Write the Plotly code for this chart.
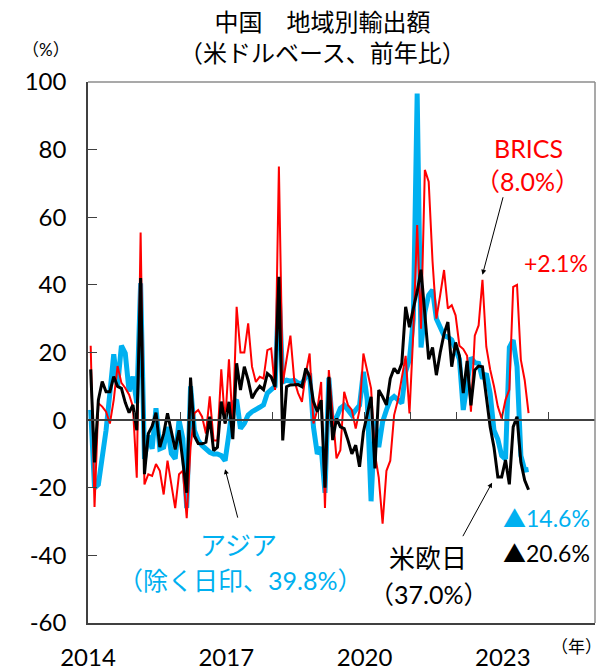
import plotly.graph_objects as go
import numpy as np

# monthly y/y growth (%), Jan 2014 .. Jul 2023
brics = [22, -25.7, 5, 4, 2.5, -1, 6, 16, 11, 9.5, 7.5, 4, -17, 55.5, -19, -16, -16.5, -13, -15, -22,
         -12, -19, -26, -16, -15, -29, -8, 2, 3, 1, -4, 7, -6, -6, 15, -1, 18, -2, 33.5, 20,
         20, 28.6, 15.8, 11.3, 12.8, 12.3, 20.7, 21.2, 8.9, 75, 10.8, 18, 25, 11.8, 8, 5.4, 13.8, 19.7, -1, 3,
         11.3, -26, 14.8, 2, -11.3, -8.9, 8.4, 4.4, 3, -2.5, 3, 19.7, 14, 9.4, -10, -17, -30.6, -15, -12, 1.5,
         6, 13, 19, 2, 26, 57.7, 27, 74, 70.5, 47, 30, 37, 44.4, 33, 34, 31, 22, 21, 19, 2.5,
         25, 28, 41.5, 21.7, 15, 10, 4, 0.5, 6, 9, 39.4, 40, 17.8, 11.8, 2.1]

us_eu_jp = [15, -12.5, 6, 11.4, 8.4, 8.4, 12.9, 10, 9.4, 5.2, 2.2, 4.5, -3, 42, -16, -4, -1.8, 2.2, -8, -4,
            2, -3, -8.7, -3, -12, -21.5, 12.6, -4.7, -6.9, -7, -6.5, 1, -9, -8, 5.5, -1, 5.4, -5.6, 16.8, 8.9,
            15.8, 11.8, 6.5, 8.5, 10, 9, 13.8, 12.8, 9.9, 42.4, -6, 9.9, 10.4, 10.5, 10.5, 9.9, 15.3, 12.8, 5.5, 2.5,
            5.9, -20, 12.8, -5.9, 0.5, -2, -2.5, -6, -10, -7.4, -13.8, -3.5, 2, 6.9, -14.3, 8.9, 6.9, 4.5, 12.3, 15.3,
            13.8, 16.8, 33.5, 27.5, 33, 38, 44.5, 30, 18, 21.5, 13.3, 20, 25.5, 29, 15.8, 23, 19, 8, 17.5, 4.4,
            14.8, 16, 15.8, 7, -2, -8, -16.8, -16.8, -11.8, -19, -2, 1, -12.5, -17.8, -20.6]

asia = [3, -20, -19, -12, -3, 8, 19.5, 10, 22, 19.8, 8.5, 12.9, 5, 40.5, -11.5, -4.5, -8.5, 3.5, -8.5, -8,
        -2, -9.9, -11.4, 0, -5.5, -26, 10, -3, -6, -7.5, -8.5, -9.5, -10, -10, -10.5, -12, -4, 5, 6, -2.5,
        -1, 1.5, 2.5, 3, 3.8, 4.5, 8, 9, 10, 39.5, 11.3, 11.8, 11.5, 11.8, 11, 10.8, 12.8, 13.8, -2, -10,
        -8, -21.5, 12.5, -2, 0.5, 3.5, 4.4, 3, 1.5, 3, 4.4, 14.3, 6, -24, 0, -8, -0.5, 3, 6, 7,
        6, 5, 14.3, 18, 30, 96.6, 21.5, 32, 37, 38.5, 30, 27, 25, 24.5, 23.7, 21, 18, 3, 12, 18.5,
        17, 16.8, 12.3, 13.8, 7.9, -3, -5.7, -10.5, -11.5, 21.5, 23.7, 15.8, -10.5, -14.8, -14.6]

year_ticks = [0, 36, 72, 108]
year_labels = ["2014", "2017", "2020", "2023"]
y_ticks = [100, 80, 60, 40, 20, 0, -20, -40, -60]
y_labels = ["100", "80", "60", "40", "20", "0", "-20", "-40", "-60"]

W, H = 607, 671
L, R, T, B = 88, 12, 82, 48
FONT = "Lato, 'Noto Sans CJK JP', sans-serif"
JP = "'Noto Sans CJK JP', sans-serif"
BLUE, RED = "#00B0F0", "#FF0000"

x = np.arange(len(asia)) + 0.7  # Jan 2014 sits just right of the axis


def px(xp, yp):
    # pixel position -> paper coords
    return (xp - L) / (W - L - R), (H - B - yp) / (H - T - B)


fig = go.Figure()
fig.add_trace(go.Scatter(x=x, y=asia, mode="lines", line=dict(color=BLUE, width=5), name="アジア"))
fig.add_trace(go.Scatter(x=x, y=brics, mode="lines", line=dict(color=RED, width=2), name="BRICS"))
fig.add_trace(go.Scatter(x=x, y=us_eu_jp, mode="lines", line=dict(color="black", width=3), name="米欧日"))

ann = []


def text(xp, yp, s, color="black", size=24, font=FONT):
    xx, yy = px(xp, yp)
    ann.append(dict(x=xx, y=yy, xref="paper", yref="paper", text=s, showarrow=False,
                    font=dict(family=font, size=size, color=color), xanchor="center", yanchor="middle"))


text(322, 36, "中国　地域別輸出額<br>（米ドルベース、前年比）", size=24, font=JP)
text(46, 50, "（%）", size=17)
text(576, 646, "（年）", size=17)
text(528, 148, "BRICS", RED, 25)
text(527, 181, "（8.0%）", RED, 25)
text(556, 263, "+2.1%", RED, 23)
text(238, 545, "アジア", BLUE, 26)
text(240, 580, "（除く日印、39.8%）", BLUE, 25)
text(428, 558, "米欧日", "black", 26)
text(428, 594, "（37.0%）", "black", 25)
text(546, 518, "▲14.6%", BLUE, 23)
text(546, 553, "▲20.6%", "black", 23)

# arrows pointing at the series
for xi, yi, ax, ay in [(x[102], brics[102] + 1.5, 21, -79),
                       (x[35], asia[35] - 2.5, 13, 50),
                       (x[105] - 0.5, -18.5, -30, 55)]:
    ann.append(dict(x=xi, y=yi, xref="x", yref="y", ax=ax, ay=ay, showarrow=True,
                    arrowhead=2, arrowsize=1, arrowwidth=1, arrowcolor="black", text=""))

fig.update_layout(
    width=W, height=H, margin=dict(l=L, r=R, t=T, b=B, autoexpand=False),
    plot_bgcolor="white", paper_bgcolor="white", showlegend=False,
    annotations=ann,
    xaxis=dict(range=[0, 132], tickvals=year_ticks, ticktext=year_labels, ticks="",
               showgrid=False, zeroline=False, showline=True, linecolor="#404040", linewidth=1.5,
               tickfont=dict(family=FONT, size=24, color="black"), ticklabelstandoff=12,
               automargin=False),
    xaxis2=dict(range=[0, 132], overlaying="x", anchor="free", position=60 / 160,
                tickvals=list(range(0, 133, 12)), ticks="inside", ticklen=7, tickcolor="#404040",
                showticklabels=False, showgrid=False, zeroline=False,
                showline=True, linecolor="#404040", linewidth=1.5, automargin=False),
    yaxis=dict(range=[-60, 100], tickvals=y_ticks, ticktext=y_labels, ticks="inside", ticklen=9,
               tickcolor="#404040", showgrid=False, zeroline=False, showline=True,
               linecolor="#404040", linewidth=1.5,
               tickfont=dict(family=FONT, size=24, color="black"), ticklabelstandoff=15,
               automargin=False),
    shapes=[dict(type="line", xref="paper", yref="paper", x0=0, x1=1, y0=1, y1=1,
                 line=dict(color="#8c8c8c", width=1.5)),
            dict(type="line", xref="paper", yref="paper", x0=1, x1=1, y0=0, y1=1,
                 line=dict(color="#8c8c8c", width=1.5))],
)
# invisible point so the zero-line axis is drawn
fig.add_trace(go.Scatter(x=[0], y=[0], xaxis="x2", mode="markers", marker=dict(opacity=0),
                         hoverinfo="skip"))

# drop the browser's default body margin so the figure fills the window
fig.write_html("out.html", config={"displayModeBar": False},
               post_script="document.body.style.margin='0';")
